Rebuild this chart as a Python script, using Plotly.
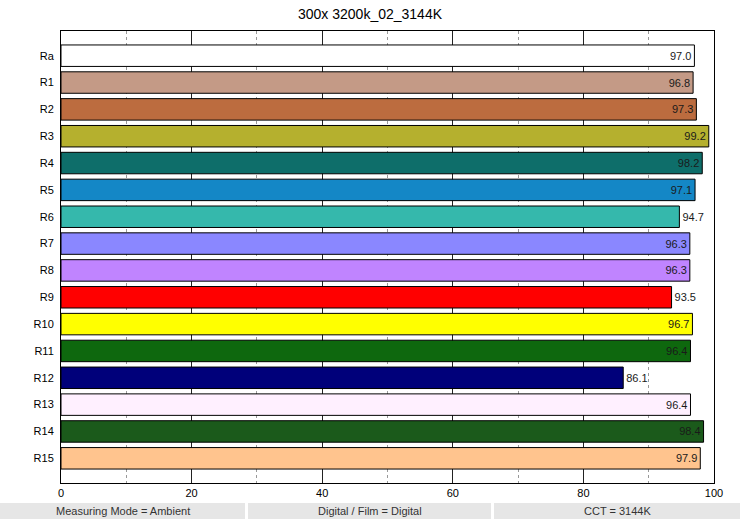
import plotly.graph_objects as go

title = "300x 3200k_02_3144K"
labels = ["Ra", "R1", "R2", "R3", "R4", "R5", "R6", "R7",
          "R8", "R9", "R10", "R11", "R12", "R13", "R14", "R15"]
values = [97.0, 96.8, 97.3, 99.2, 98.2, 97.1, 94.7, 96.3,
          96.3, 93.5, 96.7, 96.4, 86.1, 96.4, 98.4, 97.9]
colors = ["#FFFFFF", "#C49A86", "#BC6C3F", "#B5B02E", "#0E6E6A", "#1487C6",
          "#35B8AC", "#8A87FF", "#C084FF", "#FF0000", "#FFFF00", "#0E680E",
          "#00007A", "#FFF0FF", "#1B5A1B", "#FFC48E"]
text_pos = ["inside", "inside", "inside", "inside", "inside", "inside",
            "outside", "inside", "inside", "outside", "inside", "inside",
            "outside", "inside", "inside", "inside"]
footer = ["Measuring Mode = Ambient", "Digital / Film = Digital", "CCT = 3144K"]

W, H = 740, 521
L, R, T, B = 61, 26, 31, 38
pw, ph = W - L - R, H - T - B


def px(x):
    return (x - L) / pw


def py(y):
    return (H - B - y) / ph


fig = go.Figure(go.Bar(
    x=values, y=labels, orientation="h",
    marker=dict(color=colors, line=dict(color="black", width=1)),
    width=0.8,
    text=[f"{v:.1f}" for v in values], textposition=text_pos,
    insidetextanchor="end", textangle=0,
    textfont=dict(size=11, color="#1a1a1a"),
    insidetextfont=dict(size=11, color="#1a1a1a"),
    outsidetextfont=dict(size=11, color="#1a1a1a"),
    cliponaxis=False,
))

shapes = []
annotations = []
boxes = [(0, 245), (248, 491), (494, 740)]
for (x0, x1), t in zip(boxes, footer):
    shapes.append(dict(type="rect", xref="paper", yref="paper",
                       x0=px(x0), x1=px(x1), y0=py(519), y1=py(503),
                       fillcolor="#E6E6E6", line=dict(width=0), layer="below"))
    annotations.append(dict(xref="paper", yref="paper", x=px((x0 + x1) / 2), y=py(511),
                            text=t, showarrow=False, xanchor="center", yanchor="middle",
                            font=dict(size=11, color="#333333")))

fig.update_layout(
    width=W, height=H,
    margin=dict(l=L, r=R, t=T, b=B),
    paper_bgcolor="white", plot_bgcolor="white",
    font=dict(family="Liberation Sans, Arial, sans-serif", size=11, color="black"),
    title=dict(text=title, x=0.5, xref="container", xanchor="center", y=1 - 14 / H, yanchor="middle",
               font=dict(size=14, color="black")),
    showlegend=False,
    shapes=shapes, annotations=annotations,
)
fig.update_xaxes(
    range=[0, 100], dtick=20, showgrid=True, gridcolor="#222222", gridwidth=1,
    minor=dict(dtick=10, showgrid=True, gridcolor="#999999", griddash="dot", gridwidth=1),
    showline=True, linecolor="black", mirror=True, zeroline=False,
    ticks="", tickfont=dict(size=11), fixedrange=True,
)
fig.update_yaxes(
    categoryorder="array", categoryarray=labels,
    range=[15.92, -0.92], showgrid=False,
    showline=True, linecolor="black", mirror=True,
    ticks="", ticklabelstandoff=4, tickfont=dict(size=11),
)

fig.write_html("out.html", config={"displayModeBar": False},
               post_script="document.body.style.margin='0';")
